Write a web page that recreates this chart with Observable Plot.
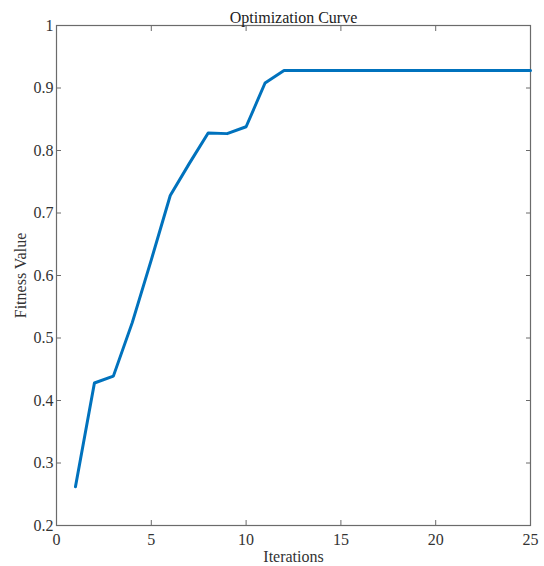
<!DOCTYPE html>
<html><head><meta charset="utf-8">
<script src="https://cdn.jsdelivr.net/npm/d3@7"></script>
<script src="https://cdn.jsdelivr.net/npm/@observablehq/plot@0.6"></script>
<style>body{margin:0;background:#fff}</style>
</head><body><div id="chart"></div>
<script>
const iterations = [1,2,3,4,5,6,7,8,9,10,11,12,13,14,15,16,17,18,19,20,21,22,23,24,25];
const fitness = [0.262,0.428,0.439,0.525,0.625,0.728,0.779,0.828,0.827,0.838,0.908,0.928,0.928,0.928,0.928,0.928,0.928,0.928,0.928,0.928,0.928,0.928,0.928,0.928,0.928];
const xTicks = [0,5,10,15,20,25];
const yTicks = [0.2,0.3,0.4,0.5,0.6,0.7,0.8,0.9,1];
const title = "Optimization Curve";
const data = iterations.map((x,i)=>({x, y: fitness[i]}));
const axisColor = "#6b6b6b";
const chart = Plot.plot({
  width: 544, height: 566,
  marginLeft: 56, marginRight: 14, marginTop: 25, marginBottom: 41,
  style: {fontFamily: "'Liberation Serif', serif", fontSize: "16px", color: "#333", background: "#fff"},
  x: {domain: [0,25], ticks: xTicks},
  y: {domain: [0.2,1], ticks: yTicks},
  marks: [
    Plot.frame({stroke: axisColor, strokeWidth: 1.2}),
    Plot.axisX({ticks: xTicks, tickSize: -5, tickPadding: 13, stroke: axisColor, fill: "#333", label: "Iterations", labelAnchor: "center", labelArrow: "none", labelOffset: 36, fontSize: 16}),
    Plot.axisX({anchor: "top", ticks: xTicks, tickSize: -5, tickFormat: () => "", stroke: axisColor, label: null}),
    Plot.axisY({ticks: yTicks, tickSize: -5, tickPadding: 8, tickFormat: d => d === 1 ? "1" : d3.format(".1f")(d), stroke: axisColor, fill: "#333", label: "Fitness Value", labelAnchor: "center", labelArrow: "none", labelOffset: 42, fontSize: 16}),
    Plot.axisY({anchor: "right", ticks: yTicks, tickSize: -5, tickFormat: () => "", stroke: axisColor, label: null}),
    Plot.line(data, {x: "x", y: "y", stroke: "#0072BD", strokeWidth: 3, strokeLinejoin: "round"}),
    Plot.text([title], {frameAnchor: "top", dy: -14, fontSize: 16, fill: "#222"})
  ]
});
document.getElementById("chart").appendChild(chart);
</script></body></html>
